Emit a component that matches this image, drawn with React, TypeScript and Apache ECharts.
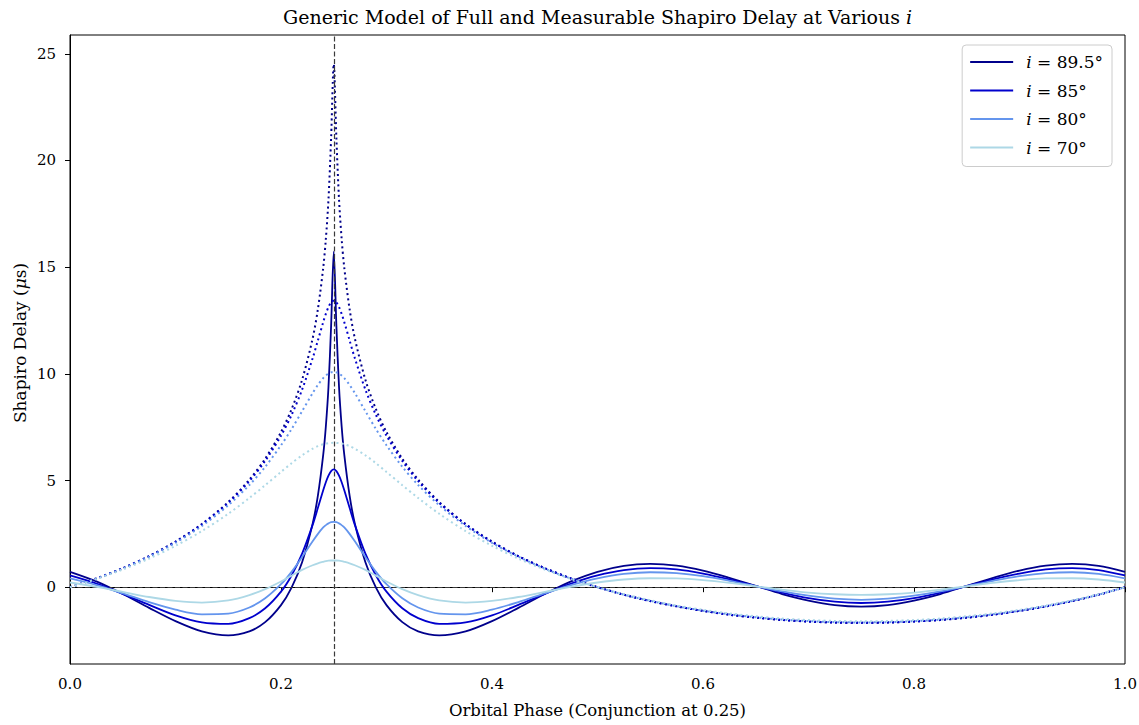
import React, { useEffect, useRef } from "react";
import * as echarts from "echarts";

const phase = [0, 0.025, 0.05, 0.075, 0.1, 0.125, 0.15, 0.17, 0.185, 0.2, 0.21, 0.22, 0.23, 0.235, 0.24, 0.2425, 0.245, 0.2475, 0.25, 0.2525, 0.255, 0.2575, 0.26, 0.265, 0.27, 0.28, 0.29, 0.3, 0.315, 0.33, 0.35, 0.375, 0.4, 0.425, 0.45, 0.475, 0.5, 0.525, 0.55, 0.575, 0.6, 0.625, 0.65, 0.675, 0.7, 0.725, 0.75, 0.775, 0.8, 0.825, 0.85, 0.875, 0.9, 0.925, 0.95, 0.975, 1.0];

const full895 = [0, 0.41, 0.89, 1.46, 2.14, 2.96, 3.99, 5.04, 6.02, 7.27, 8.34, 9.72, 11.66, 13.04, 14.96, 16.31, 18.17, 21.04, 24.52,
  21.04, 18.17, 16.31, 14.96, 13.04, 11.66, 9.72, 8.34, 7.27, 6.02, 5.04, 3.99, 2.96, 2.14, 1.46, 0.89, 0.41, 0, -0.35, -0.65, -0.90, -1.11, -1.29, -1.43, -1.54, -1.61, -1.66, -1.67,
  -1.66, -1.61, -1.54, -1.43, -1.29, -1.11, -0.90, -0.65, -0.35, 0];
const meas895 = [0.72, 0.27, -0.32, -0.97, -1.59, -2.07, -2.26, -2.07, -1.64, -0.84, -0.02, 1.17, 2.98, 4.30, 6.20, 7.53, 9.38, 12.25, 15.73,
  12.25, 9.38, 7.53, 6.20, 4.30, 2.98, 1.17, -0.02, -0.84, -1.64, -2.07, -2.26, -2.07, -1.59, -0.97, -0.32, 0.27, 0.72, 1.00, 1.09, 1.01, 0.78, 0.44, 0.06, -0.32, -0.63, -0.84, -0.91,
  -0.84, -0.63, -0.32, 0.06, 0.44, 0.78, 1.01, 1.09, 1.00, 0.72];

const full85 = [0, 0.41, 0.89, 1.45, 2.12, 2.94, 3.95, 4.97, 5.92, 7.10, 8.07, 9.26, 10.73, 11.57, 12.42, 12.81, 13.13, 13.35, 13.43,
  13.35, 13.13, 12.81, 12.42, 11.57, 10.73, 9.26, 8.07, 7.10, 5.92, 4.97, 3.95, 2.94, 2.12, 1.45, 0.89, 0.41, 0, -0.35, -0.65, -0.90, -1.11, -1.29, -1.42, -1.53, -1.61, -1.65, -1.67,
  -1.65, -1.61, -1.53, -1.42, -1.29, -1.11, -0.90, -0.65, -0.35, 0];
const meas85 = [0.55, 0.17, -0.31, -0.83, -1.32, -1.65, -1.72, -1.45, -0.99, -0.21, 0.55, 1.57, 2.92, 3.72, 4.54, 4.92, 5.23, 5.44, 5.52,
  5.44, 5.23, 4.92, 4.54, 3.72, 2.92, 1.57, 0.55, -0.21, -0.99, -1.45, -1.72, -1.65, -1.32, -0.83, -0.31, 0.17, 0.55, 0.80, 0.89, 0.83, 0.64, 0.37, 0.05, -0.25, -0.51, -0.68, -0.74,
  -0.68, -0.51, -0.25, 0.05, 0.37, 0.64, 0.83, 0.89, 0.80, 0.55];

const full80 = [0, 0.40, 0.87, 1.43, 2.08, 2.87, 3.84, 4.79, 5.64, 6.65, 7.41, 8.25, 9.10, 9.48, 9.80, 9.92, 10.01, 10.07, 10.09,
  10.07, 10.01, 9.92, 9.80, 9.48, 9.10, 8.25, 7.41, 6.65, 5.64, 4.79, 3.84, 2.87, 2.08, 1.43, 0.87, 0.40, 0, -0.35, -0.64, -0.89, -1.10, -1.27, -1.41, -1.52, -1.59, -1.64, -1.65,
  -1.64, -1.59, -1.52, -1.41, -1.27, -1.10, -0.89, -0.64, -0.35, 0];
const meas80 = [0.41, 0.10, -0.29, -0.70, -1.05, -1.27, -1.24, -0.95, -0.52, 0.14, 0.72, 1.41, 2.15, 2.50, 2.80, 2.91, 2.99, 3.05, 3.06,
  3.05, 2.99, 2.91, 2.80, 2.50, 2.15, 1.41, 0.72, 0.14, -0.52, -0.95, -1.24, -1.27, -1.05, -0.70, -0.29, 0.10, 0.41, 0.62, 0.70, 0.66, 0.52, 0.30, 0.05, -0.20, -0.40, -0.54, -0.59,
  -0.54, -0.40, -0.20, 0.05, 0.30, 0.52, 0.66, 0.70, 0.62, 0.41];

const full70 = [0, 0.38, 0.83, 1.34, 1.94, 2.63, 3.44, 4.18, 4.78, 5.40, 5.81, 6.18, 6.49, 6.61, 6.70, 6.73, 6.75, 6.76, 6.77,
  6.76, 6.75, 6.73, 6.70, 6.61, 6.49, 6.18, 5.81, 5.40, 4.78, 4.18, 3.44, 2.63, 1.94, 1.34, 0.83, 0.38, 0, -0.33, -0.61, -0.86, -1.06, -1.23, -1.36, -1.47, -1.54, -1.58, -1.60,
  -1.58, -1.54, -1.47, -1.36, -1.23, -1.06, -0.86, -0.61, -0.33, 0];
const meas70 = [0.22, 0.02, -0.22, -0.46, -0.64, -0.72, -0.62, -0.37, -0.09, 0.27, 0.54, 0.81, 1.03, 1.12, 1.19, 1.22, 1.24, 1.25, 1.25,
  1.25, 1.24, 1.22, 1.19, 1.12, 1.03, 0.81, 0.54, 0.27, -0.09, -0.37, -0.62, -0.72, -0.64, -0.46, -0.22, 0.02, 0.22, 0.36, 0.42, 0.41, 0.33, 0.20, 0.04, -0.11, -0.25, -0.33, -0.36,
  -0.33, -0.25, -0.11, 0.04, 0.20, 0.33, 0.41, 0.42, 0.36, 0.22];

const inclinations = ["89.5", "85", "80", "70"];
const colors = ["#00008B", "#0000CD", "#6495ED", "#ADD8E6"];
const fullSets = [full895, full85, full80, full70];
const measSets = [meas895, meas85, meas80, meas70];

const yTicks = [0, 5, 10, 15, 20, 25];
const conjunction = 0.25;

const FONT = "'DejaVu Serif', serif";

export default function App() {
  const ref = useRef<HTMLDivElement>(null);
  useEffect(() => {
    const chart = echarts.init(ref.current!, undefined, { renderer: "svg" });
    const series: any[] = [];
    inclinations.forEach((inc, k) => {
      series.push({
        name: "full-" + inc,
        type: "line",
        data: phase.map((p, j) => [p, fullSets[k][j]]),
        symbol: "none",
        smooth: 0.3,
        lineStyle: { color: colors[k], width: 2, type: [2, 3.2], cap: "butt" },
        z: 2 + k * 2,
      });
      series.push({
        name: inc,
        type: "line",
        data: phase.map((p, j) => [p, measSets[k][j]]),
        symbol: "none",
        smooth: 0.3,
        itemStyle: { color: colors[k] },
        lineStyle: { color: colors[k], width: 1.8 },
        z: 3 + k * 2,
      });
    });
    series.push({
      name: "refs",
      type: "line",
      data: [],
      symbol: "none",
      z: 20,
      markLine: {
        silent: true,
        symbol: "none",
        label: { show: false },
        lineStyle: { color: "#3a3a3a", width: 1.2, type: [5, 2.5] },
        emphasis: { disabled: true },
        data: [{ xAxis: conjunction }, { yAxis: 0 }],
      },
    });

    chart.setOption({
      animation: false,
      backgroundColor: "#fff",
      textStyle: { fontFamily: FONT },
      grid: {
        left: 70, right: 14, top: 35, bottom: 61,
        show: true, borderColor: "#000", borderWidth: 1,
        outerBoundsMode: "none",
      },
      xAxis: {
        type: "value", min: 0, max: 1, interval: 0.2,
        axisLine: { show: true, lineStyle: { color: "#000", width: 1 } },
        axisTick: { show: true, inside: false, length: 5, lineStyle: { color: "#000" } },
        axisLabel: { color: "#000", fontFamily: FONT, fontSize: 15, margin: 12, formatter: (v: number) => v.toFixed(1) },
        splitLine: { show: false },
      },
      yAxis: {
        type: "value", min: -3.6, max: 25.88,
        axisLine: { show: true, lineStyle: { color: "#000", width: 1 } },
        axisTick: { show: true, inside: false, length: 5, lineStyle: { color: "#000" }, customValues: yTicks },
        axisLabel: { color: "#000", fontFamily: FONT, fontSize: 15, margin: 14, customValues: yTicks },
        splitLine: { show: false },
      },
      legend: {
        data: inclinations,
        orient: "vertical",
        right: 27, top: 45,
        backgroundColor: "#fff",
        borderColor: "#cccccc", borderWidth: 1, borderRadius: 4,
        padding: [8, 9, 10, 8],
        icon: "rect",
        itemWidth: 43, itemHeight: 2, itemGap: 10.5,
        selectedMode: false,
        formatter: (name: string) => `{it|i} = ${name}°`,
        textStyle: {
          color: "#000", fontFamily: FONT, fontSize: 17, lineHeight: 18, padding: [0, 0, 0, 8],
          rich: { it: { fontStyle: "italic", fontFamily: FONT, fontSize: 17, lineHeight: 18, color: "#000" } },
        },
      },
      graphic: [
        {
          type: "text", x: 597.5, y: 17, z: 100,
          style: {
            text: "Generic Model of Full and Measurable Shapiro Delay at Various {it|i}",
            fontFamily: FONT, fontSize: 19, fill: "#000", align: "center", verticalAlign: "middle",
            rich: { it: { fontStyle: "italic", fontFamily: FONT, fontSize: 19, fill: "#000" } },
          },
        },
        {
          type: "text", x: 597.5, y: 710, z: 100,
          style: {
            text: "Orbital Phase (Conjunction at 0.25)",
            fontFamily: FONT, fontSize: 16.5, fill: "#000", align: "center", verticalAlign: "middle",
          },
        },
        {
          type: "text", x: 20, y: 343, rotation: Math.PI / 2, z: 100,
          style: {
            text: "Shapiro Delay ({it|μ}s)",
            fontFamily: FONT, fontSize: 17, fill: "#000", align: "center", verticalAlign: "middle",
            rich: { it: { fontStyle: "italic", fontFamily: FONT, fontSize: 17, fill: "#000" } },
          },
        },
      ],
      series,
    });
    return () => chart.dispose();
  }, []);
  return <div ref={ref} style={{ position: "fixed", left: 0, top: 0, width: 1139, height: 725 }} />;
}
